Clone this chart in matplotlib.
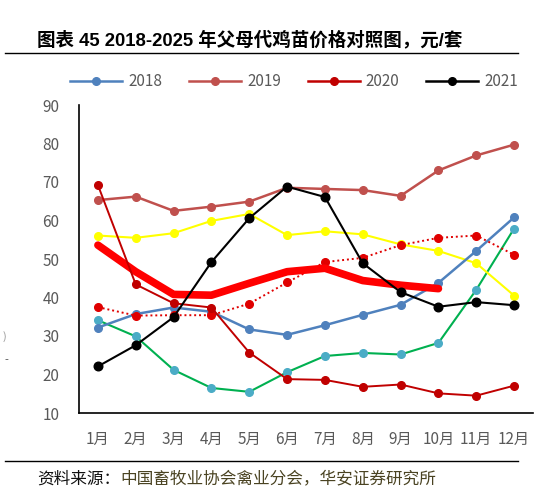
import matplotlib
matplotlib.use("Agg")
import matplotlib.pyplot as plt
from matplotlib.lines import Line2D

plt.rcParams['font.family'] = ['Noto Sans CJK SC', 'DejaVu Sans']

months = ["1月", "2月", "3月", "4月", "5月", "6月", "7月", "8月", "9月", "10月", "11月", "12月"]
legend_labels = ["2018", "2019", "2020", "2021"]

s2018 = [32.2, 35.7, 37.4, 36.3, 31.7, 30.3, 32.8, 35.5, 38.1, 43.8, 52.1, 60.8]
s2019 = [65.3, 66.2, 62.5, 63.6, 64.9, 68.5, 68.2, 67.9, 66.4, 73.0, 76.9, 79.7]
s2020 = [69.2, 43.4, 38.5, 37.4, 25.7, 18.8, 18.6, 16.8, 17.4, 15.1, 14.5, 17.1]
s2021 = [22.1, 27.6, 34.9, 49.2, 60.6, 68.8, 66.1, 48.9, 41.4, 37.6, 38.8, 38.0]
s_green = [34.1, 29.9, 21.2, 16.5, 15.5, 20.6, 24.8, 25.6, 25.2, 28.2, 42.0, 57.9]
s_yellow = [56.1, 55.5, 56.7, 59.9, 61.7, 56.2, 57.2, 56.4, 53.8, 52.1, 48.9, 40.5]
s_dotted = [37.5, 35.3, 35.4, 35.4, 38.4, 43.9, 49.2, 50.3, 53.6, 55.5, 56.1, 51.1]
s_thick = [53.6, 46.7, 40.8, 40.6, 43.7, 46.7, 47.6, 44.4, 43.2, 42.3]

title = "图表 45 2018-2025 年父母代鸡苗价格对照图，元/套"
source_head = "资料来源："
source_body = "中国畜牧业协会禽业分会，华安证券研究所"

W, H = 560, 492
fig = plt.figure(figsize=(W / 100, H / 100), dpi=100)
ax = fig.add_axes([79 / W, 1 - 413 / H, (533 - 79) / W, (413 - 105) / H])

x = list(range(1, 13))
xt = list(range(1, len(s_thick) + 1))

ax.plot(x, s_green, color="#00B050", lw=1.5, marker="o", ms=5.5,
        mfc="#4BACC6", mec="#4BACC6", zorder=3)
ax.plot(x, s_yellow, color="#FFFF00", lw=1.5, marker="o", ms=5.5,
        mfc="#FFFF00", mec="#FFFF00", zorder=3)
ax.plot(x, s2018, color="#4F81BD", lw=1.8, marker="o", ms=5.5, zorder=3)
ax.plot(x, s2019, color="#C0504D", lw=1.8, marker="o", ms=5.5, zorder=3)
ax.plot(x, s_dotted, color="#E00000", lw=1.4, ls=(0, (1, 1.5)), marker="o", ms=5.5,
        mfc="#E00000", mec="#E00000", zorder=4)
ax.plot(xt, s_thick, color="#FF0000", lw=5.5, solid_capstyle="round", zorder=5)
ax.plot(x, s2020, color="#C00000", lw=1.4, marker="o", ms=5.5, zorder=6)
ax.plot(x, s2021, color="#000000", lw=1.5, marker="o", ms=6.2, zorder=7)

ax.set_xlim(0.5, 12.5)
ax.set_ylim(10, 90)
ax.set_yticks(range(10, 91, 10))
ax.set_xticks(x)
ax.set_xticklabels(months)
ax.tick_params(length=0, labelsize=11, labelcolor="#595959")
ax.tick_params(axis="y", pad=14)
ax.tick_params(axis="x", pad=13)
for s in ("top", "right"):
    ax.spines[s].set_visible(False)
for s in ("left", "bottom"):
    ax.spines[s].set_linewidth(1.2)
    ax.spines[s].set_color("black")

colors = ["#4F81BD", "#C0504D", "#C00000", "#000000"]
handles = [Line2D([], [], color=c, lw=1.8, marker="o", ms=5.5) for c in colors]
fig.legend(handles, legend_labels, loc="center", bbox_to_anchor=(294 / W, 1 - 82 / H),
           ncol=4, frameon=False, fontsize=11, handlelength=3.4, handletextpad=0.4,
           columnspacing=1.75, labelcolor="#595959")

fig.text(37 / W, 1 - 40 / H, title, fontsize=13.3, fontweight="bold",
         family=['Liberation Sans', 'Noto Sans CJK SC'],
         ha="left", va="center", color="black")
fig.add_artist(Line2D([5 / W, 518 / W], [1 - 53 / H, 1 - 53 / H],
                      color="black", lw=1.0, transform=fig.transFigure))
fig.add_artist(Line2D([5 / W, 518 / W], [1 - 461 / H, 1 - 461 / H],
                      color="black", lw=1.0, transform=fig.transFigure))
t1 = fig.text(37 / W, 1 - 479 / H, source_head, fontsize=12,
              ha="left", va="center", color="#111111")
fig.canvas.draw()
bb = t1.get_window_extent()
fig.text(bb.x1 / W, 1 - 479 / H, source_body, fontsize=12,
         ha="left", va="center", color="#4A4322")

fig.text(3 / W, 1 - 337 / H, ")", fontsize=8, color="#9a9a9a", ha="left", va="center")
fig.text(4 / W, 1 - 360 / H, "-", fontsize=8, color="#555555", ha="left", va="center")

fig.savefig("out.png", dpi=100)
